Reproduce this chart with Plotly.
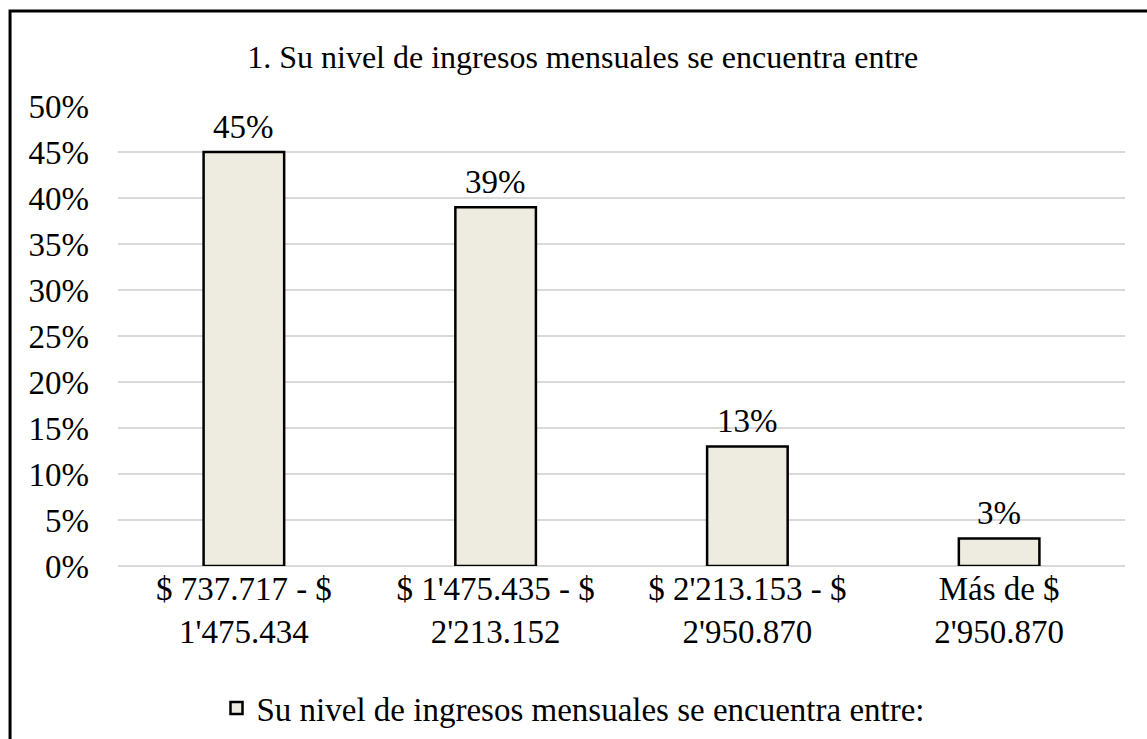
import plotly.graph_objects as go

# datos
categorias = ["$ 737.717 - $<br>1'475.434", "$ 1'475.435 - $<br>2'213.152",
              "$ 2'213.153 - $<br>2'950.870", "Más de $<br>2'950.870"]
porcentajes = [0.45, 0.39, 0.13, 0.03]
etiquetas = ["45%", "39%", "13%", "3%"]
serie = "Su nivel de ingresos mensuales se encuentra entre:"
titulo = "1. Su nivel de ingresos mensuales se encuentra entre"

FONT = "Liberation Serif"
SIZE = 33

fig = go.Figure()
fig.add_trace(go.Bar(
    x=categorias, y=porcentajes, name=serie,
    marker=dict(color="#EEECE1", line=dict(color="black", width=2.5)),
))

for c, v, t in zip(categorias, porcentajes, etiquetas):
    fig.add_annotation(x=c, y=v, text=t, showarrow=False, yanchor="bottom", yshift=5,
                       font=dict(family=FONT, size=SIZE, color="black"))

# marco del gráfico
fig.add_shape(type="rect", xref="paper", yref="paper",
              x0=-0.1072, x1=1.1, y0=-0.5, y1=1.2065,
              line=dict(color="black", width=3), layer="above")

fig.update_layout(
    width=1147, height=739,
    margin=dict(l=118, r=22, t=106, b=173),
    paper_bgcolor="white", plot_bgcolor="white",
    bargap=0.68,
    showlegend=True,
    title=dict(text=titulo, x=0.508, xanchor="center", y=1 - 57 / 739, yanchor="middle",
               font=dict(family=FONT, size=32, color="black")),
    legend=dict(orientation="h", xref="container", yref="container",
                x=0.5, xanchor="center", y=1 - 708 / 739, yanchor="middle",
                font=dict(family=FONT, size=SIZE, color="black")),
    xaxis=dict(showgrid=False, showline=False, ticks="",
               tickfont=dict(family=FONT, size=SIZE, color="black")),
    yaxis=dict(range=[0, 0.5], dtick=0.05, tickformat=".0%",
               showgrid=True, gridcolor="#D9D9D9", gridwidth=2,
               zeroline=True, zerolinecolor="#D9D9D9", zerolinewidth=2,
               ticks="", ticklabelstandoff=28,
               tickfont=dict(family=FONT, size=SIZE, color="black")),
)

fig.write_html("out.html", config={"displayModeBar": False},
               post_script="document.body.style.margin='0';")
